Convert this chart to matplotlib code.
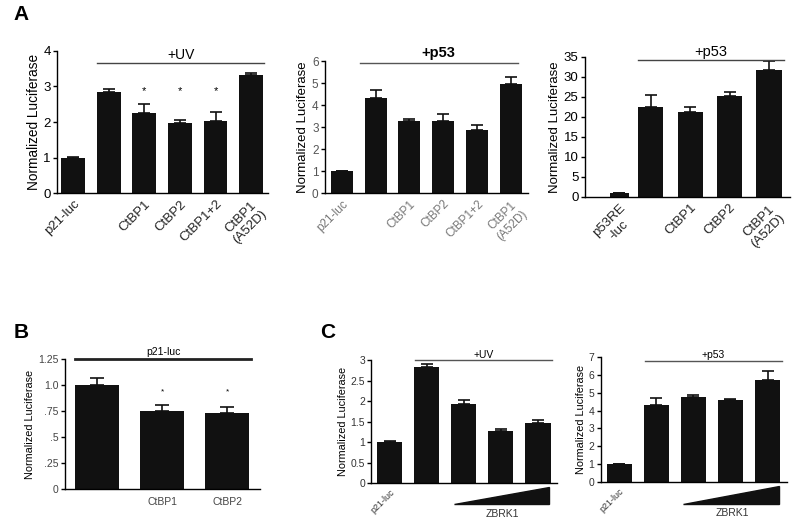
import matplotlib.pyplot as plt
import numpy as np

plt.rcParams['font.family'] = ['Liberation Sans', 'DejaVu Sans']

# Panel A, left: p21-luc + UV
a1_labels = ['p21-luc', '', 'CtBP1', 'CtBP2', 'CtBP1+2', 'CtBP1\n(A52D)']
a1_values = [1.0, 2.85, 2.25, 1.97, 2.02, 3.33]
a1_errors = [0.03, 0.08, 0.25, 0.08, 0.25, 0.05]
a1_stars = [2, 3, 4]

# Panel A, middle: p21-luc + p53
a2_labels = ['p21-luc', '', 'CtBP1', 'CtBP2', 'CtBP1+2', 'CtBP1\n(A52D)']
a2_values = [1.0, 4.32, 3.31, 3.27, 2.88, 4.95]
a2_errors = [0.03, 0.37, 0.06, 0.32, 0.22, 0.35]

# Panel A, right: p53RE-luc + p53
a3_labels = ['p53RE\n-luc', '', 'CtBP1', 'CtBP2', 'CtBP1\n(A52D)']
a3_values = [0.9, 22.5, 21.3, 25.1, 31.7]
a3_errors = [0.1, 3.0, 1.2, 1.1, 2.2]

# Panel B: p21-luc
b_labels = ['', 'CtBP1', 'CtBP2']
b_values = [1.0, 0.75, 0.735]
b_errors = [0.065, 0.055, 0.055]
b_ticks = [0, 0.25, 0.5, 0.75, 1.0, 1.25]
b_ticklabels = ['0', '.25', '.5', '.75', '1.0', '1.25']

# Panel C: ZBRK1 titration
c1_values = [1.0, 2.83, 1.92, 1.28, 1.46]
c1_errors = [0.03, 0.08, 0.10, 0.05, 0.07]
c2_values = [1.0, 4.3, 4.75, 4.6, 5.7]
c2_errors = [0.03, 0.38, 0.15, 0.07, 0.5]

fig = plt.figure(figsize=(8, 5.25), dpi=100)


def style(ax, tick_fs, lab_fs, ylabel='Normalized Luciferase'):
    ax.spines['top'].set_visible(False)
    ax.spines['right'].set_visible(False)
    ax.spines['left'].set_linewidth(1.0)
    ax.spines['bottom'].set_linewidth(1.0)
    ax.tick_params(axis='y', labelsize=tick_fs, length=3, width=1, pad=1.5)
    ax.tick_params(axis='x', length=0, labelsize=tick_fs)
    ax.set_ylabel(ylabel, fontsize=lab_fs, labelpad=2)


def bars(ax, x, vals, errs, width, capsize):
    ax.bar(x, vals, width=width, color='#111111', zorder=2)
    ax.errorbar(x, vals, yerr=[np.zeros(len(vals)), errs], fmt='none',
                ecolor='#111111', elinewidth=1.2, capsize=capsize, capthick=1.2, zorder=1)


def bracket(ax, x0, x1, y, text, fs, color='#444444', lw=1.0, weight='normal', dy=0.0):
    ax.plot([x0, x1], [y, y], color=color, lw=lw, clip_on=False)
    ax.text((x0 + x1) / 2, y + dy, text, ha='center', va='bottom', fontsize=fs,
            weight=weight, clip_on=False)


# ---- A1
ax = fig.add_axes([0.0713, 0.632, 0.264, 0.271])
x = np.arange(6)
bars(ax, x, a1_values, a1_errors, 0.67, 4.5)
ax.set_xlim(-0.45, 5.48)
ax.set_ylim(0, 4)
ax.set_yticks([0, 1, 2, 3, 4])
style(ax, 9.5, 9.8)
ax.set_xticks(x)
ax.set_xticklabels(a1_labels, rotation=45, ha='right', rotation_mode='anchor',
                   color='#222222', multialignment='center')
for i in a1_stars:
    ax.text(i, 2.88, '*', ha='center', va='center', fontsize=8)
bracket(ax, 0.68, 5.36, 3.65, '+UV', 10, dy=0.03)

# ---- A2
ax = fig.add_axes([0.406, 0.632, 0.254, 0.251])
bars(ax, x, a2_values, a2_errors, 0.65, 4.5)
ax.set_xlim(-0.5, 5.5)
ax.set_ylim(0, 6)
ax.set_yticks(range(7))
style(ax, 8.5, 9.5)
ax.tick_params(axis='y', labelcolor='#555555')
ax.set_xticks(x)
ax.set_xticklabels(a2_labels, rotation=45, ha='right', rotation_mode='anchor',
                   color='#777777', multialignment='center')
bracket(ax, 0.53, 5.2, 5.95, '+p53', 10.5, color='#555555', weight='bold', dy=0.1)

# ---- A3
ax = fig.add_axes([0.731, 0.625, 0.256, 0.267])
x3 = np.array([0.2, 1, 2, 3, 4])
bars(ax, x3, a3_values, a3_errors, [0.48, 0.64, 0.64, 0.64, 0.64], 4.5)
ax.set_xlim(-0.67, 4.52)
ax.set_ylim(0, 35)
ax.set_yticks(range(0, 36, 5))
style(ax, 9.5, 9.5)
ax.set_xticks(x3)
ax.set_xticklabels(a3_labels, rotation=45, ha='right', rotation_mode='anchor',
                   color='#222222', multialignment='center')
bracket(ax, 0.67, 4.38, 34.2, '+p53', 10.5, dy=0.3)

# ---- B
ax = fig.add_axes([0.081, 0.0686, 0.244, 0.2476])
xb = np.arange(3)
bars(ax, xb, b_values, b_errors, 0.67, 5)
ax.set_xlim(-0.49, 2.5)
ax.set_ylim(0, 1.25)
ax.set_yticks(b_ticks)
ax.set_yticklabels(b_ticklabels)
style(ax, 7.5, 7.8)
ax.tick_params(axis='y', labelcolor='#444444')
ax.set_xticks(xb)
ax.set_xticklabels(b_labels, color='#444444')
ax.tick_params(axis='x', pad=6)
for i in [1, 2]:
    ax.text(i, 0.93, '*', ha='center', va='center', fontsize=6)
bracket(ax, -0.33, 2.36, 1.25, 'p21-luc', 7.5, color='#222222', lw=2.0, dy=0.015)

# ---- C1 and C2
for rect, vals, errs, top, lab, ylim_top, ly in [
        ([0.464, 0.080, 0.2325, 0.234], c1_values, c1_errors, 3, '+UV', 3, 3.0),
        ([0.751, 0.0819, 0.2325, 0.238], c2_values, c2_errors, 7, '+p53', 7, 6.8)]:
    ax = fig.add_axes(rect)
    xc = np.arange(5)
    bars(ax, xc, vals, errs, 0.68, 4.5)
    ax.set_xlim(-0.5, 4.52)
    ax.set_ylim(0, ylim_top)
    if top == 3:
        ax.set_yticks([0, 0.5, 1, 1.5, 2, 2.5, 3])
        ax.set_yticklabels(['0', '0.5', '1', '1.5', '2', '2.5', '3'])
    else:
        ax.set_yticks(range(8))
    style(ax, 7.5, 7.8)
    ax.tick_params(axis='y', labelcolor='#333333')
    ax.set_xticks([0])
    ax.set_xticklabels(['p21-luc'], rotation=45, ha='right', rotation_mode='anchor',
                       fontsize=6.5, color='#333333')
    bracket(ax, 0.68, 4.38, ly, lab, 7.5, color='#555555', dy=ylim_top * 0.005)
    tr = ax.get_xaxis_transform()
    ax.fill([1.73, 4.3, 4.3], [-0.175, -0.175, -0.03], color='#111111',
            transform=tr, clip_on=False)
    ax.text(3.05, -0.25, 'ZBRK1', transform=tr, ha='center', va='center',
            fontsize=7.5, color='#333333')

fig.text(0.017, 0.972, 'A', fontsize=15, weight='bold', va='center')
fig.text(0.017, 0.366, 'B', fontsize=15, weight='bold', va='center')
fig.text(0.40, 0.366, 'C', fontsize=15, weight='bold', va='center')

fig.savefig('out.png', dpi=100)
